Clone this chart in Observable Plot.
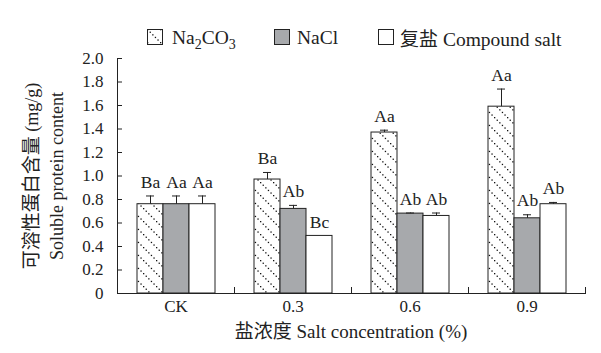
<!DOCTYPE html>
<html>
<head>
<meta charset="utf-8">
<script src="https://cdn.jsdelivr.net/npm/d3@7"></script>
<script src="https://cdn.jsdelivr.net/npm/@observablehq/plot@0.6"></script>
<style>
  html, body { margin: 0; padding: 0; background: #fff; }
  #wrap { position: relative; width: 601px; height: 353px; font-family: "Liberation Serif", "Times New Roman", "DejaVu Serif", "Noto Sans CJK SC", serif; color: #222; }
  .abs { position: absolute; white-space: nowrap; }
  .cjk { font-family: "Noto Sans CJK SC", sans-serif; font-size: 19px; }
  .box { position: absolute; width: 15px; height: 15px; border: 1px solid #222; box-sizing: border-box; }
  .leg { position: absolute; font-size: 19.5px; line-height: 19px; white-space: nowrap; }
  .rot { position: absolute; white-space: nowrap; transform: translate(-50%, -50%) rotate(-90deg); font-size: 18px; line-height: 20px; }
  svg text { font-family: "Liberation Serif", "Times New Roman", "DejaVu Serif", "Noto Sans CJK SC", serif; }
</style>
</head>
<body>
<div id="wrap">
  <svg width="0" height="0" style="position:absolute">
    <defs>
      <pattern id="hatch" patternUnits="userSpaceOnUse" width="13" height="13">
        <rect width="13" height="13" fill="#fff"></rect>
        <g id="dots" fill="#111"></g>
      </pattern>
    </defs>
  </svg>
</div>
<script>
// ---- data ----
const groups = ["CK", "0.3", "0.6", "0.9"];
const series = ["Na2CO3", "NaCl", "Compound"];
const na2co3 = [0.76, 0.97, 1.37, 1.59];
const nacl = [0.76, 0.72, 0.68, 0.64];
const compound = [0.76, 0.49, 0.66, 0.76];
const na2co3Err = [0.07, 0.06, 0.02, 0.15];
const naclErr = [0.07, 0.03, 0.005, 0.03];
const compoundErr = [0.07, 0, 0.025, 0.015];
const na2co3Sig = ["Ba", "Ba", "Aa", "Aa"];
const naclSig = ["Aa", "Ab", "Ab", "Ab"];
const compoundSig = ["Aa", "Bc", "Ab", "Ab"];
const yTicks = [0, 0.2, 0.4, 0.6, 0.8, 1.0, 1.2, 1.4, 1.6, 1.8, 2.0];

// hatch dots (styling)
const dotsG = document.getElementById("dots");
for (let i = 0; i < 5; i++) {
  const r = document.createElementNS("http://www.w3.org/2000/svg", "rect");
  r.setAttribute("x", i * 2.6); r.setAttribute("y", i * 2.6);
  r.setAttribute("width", 1.3); r.setAttribute("height", 1.3);
  dotsG.appendChild(r);
}

const values = [na2co3, nacl, compound];
const errs = [na2co3Err, naclErr, compoundErr];
const sigs = [na2co3Sig, naclSig, compoundSig];
const rows = [];
groups.forEach((g, gi) => series.forEach((s, si) => {
  rows.push({group: g, series: s, value: values[si][gi], err: errs[si][gi], sig: sigs[si][gi]});
}));
const errRows = rows.filter(d => d.err > 0);

const W = 601, H = 353, mt = 58, mb = 60, ml = 117, mr = 16;
const ih = H - mt - mb;
const serif = '"Liberation Serif", "Times New Roman", "DejaVu Serif", "Noto Sans CJK SC", serif';

const chart = Plot.plot({
  width: W, height: H,
  marginTop: mt, marginBottom: mb, marginLeft: ml, marginRight: mr,
  style: {fontFamily: serif, fontSize: "17px", color: "#222", background: "transparent"},
  fx: {domain: groups, padding: 0, label: null},
  x: {domain: series, paddingInner: 0, paddingOuter: 0.72, axis: null},
  y: {domain: [0, 2], label: null},
  color: {domain: series, range: ["url(#hatch)", "#a7a9ac", "#ffffff"]},
  marks: [
    Plot.barY(rows, {fx: "group", x: "series", y: "value", fill: "series", stroke: "#222", strokeWidth: 1}),
    Plot.ruleX(errRows, {fx: "group", x: "series", y1: "value", y2: d => d.value + d.err, stroke: "#222", strokeWidth: 1}),
    Plot.tickY(errRows, {fx: "group", x: "series", y: d => d.value + d.err, stroke: "#222", strokeWidth: 1, insetLeft: 9, insetRight: 9}),
    Plot.text(rows, {fx: "group", x: "series", y: d => d.value + d.err, text: "sig", dy: -14, lineAnchor: "middle", fontSize: 17.5, fill: "#222"}),
    Plot.ruleY([0], {stroke: "#222"}),
    Plot.frame({anchor: "left", facetAnchor: "left", stroke: "#222"}),
    Plot.frame({anchor: "left", insetTop: ih - 6, stroke: "#222"}),
    Plot.frame({anchor: "right", insetTop: ih - 6, stroke: "#222"}),
    Plot.axisY({ticks: yTicks, tickSize: -5, tickPadding: 19, tickFormat: d => d === 0 ? "0" : d.toFixed(1), label: null, fontSize: 17, stroke: "#222"}),
    Plot.axisFx({anchor: "bottom", tickSize: 0, tickPadding: 6, label: null, fontSize: 17})
  ]
});
chart.style.position = "absolute";
chart.style.left = "0px";
chart.style.top = "0px";
const wrap = document.getElementById("wrap");
wrap.appendChild(chart);

// legend and axis titles
const legendHTML = `
  <svg class="abs" style="left:147px;top:29px" width="16" height="16"><rect x="0.5" y="0.5" width="15" height="15" fill="url(#hatch)" stroke="#222"/></svg>
  <div class="leg" style="left:172px;top:28px">Na<sub style="font-size:14px">2</sub>CO<sub style="font-size:14px">3</sub></div>
  <div class="box" style="left:274px;top:29px;width:16px;height:16px;background:#a7a9ac"></div>
  <div class="leg" style="left:297px;top:28px">NaCl</div>
  <div class="box" style="left:378px;top:29px;width:16px;height:16px;background:#fff"></div>
  <div class="leg" style="left:400px;top:28px"><span class="cjk" style="font-size:19px">复盐</span> Compound salt</div>
  <div class="rot" style="left:31px;top:176px"><span class="cjk">可溶性蛋白含量</span> (mg/g)</div>
  <div class="rot" style="left:57px;top:176px">Soluble protein content</div>
  <div class="abs" style="left:351px;top:329px;transform:translate(-50%,-50%);font-size:19px"><span class="cjk" style="font-size:19px">盐浓度</span> Salt concentration (%)</div>
`;
wrap.insertAdjacentHTML("beforeend", legendHTML);
</script>
</body>
</html>
